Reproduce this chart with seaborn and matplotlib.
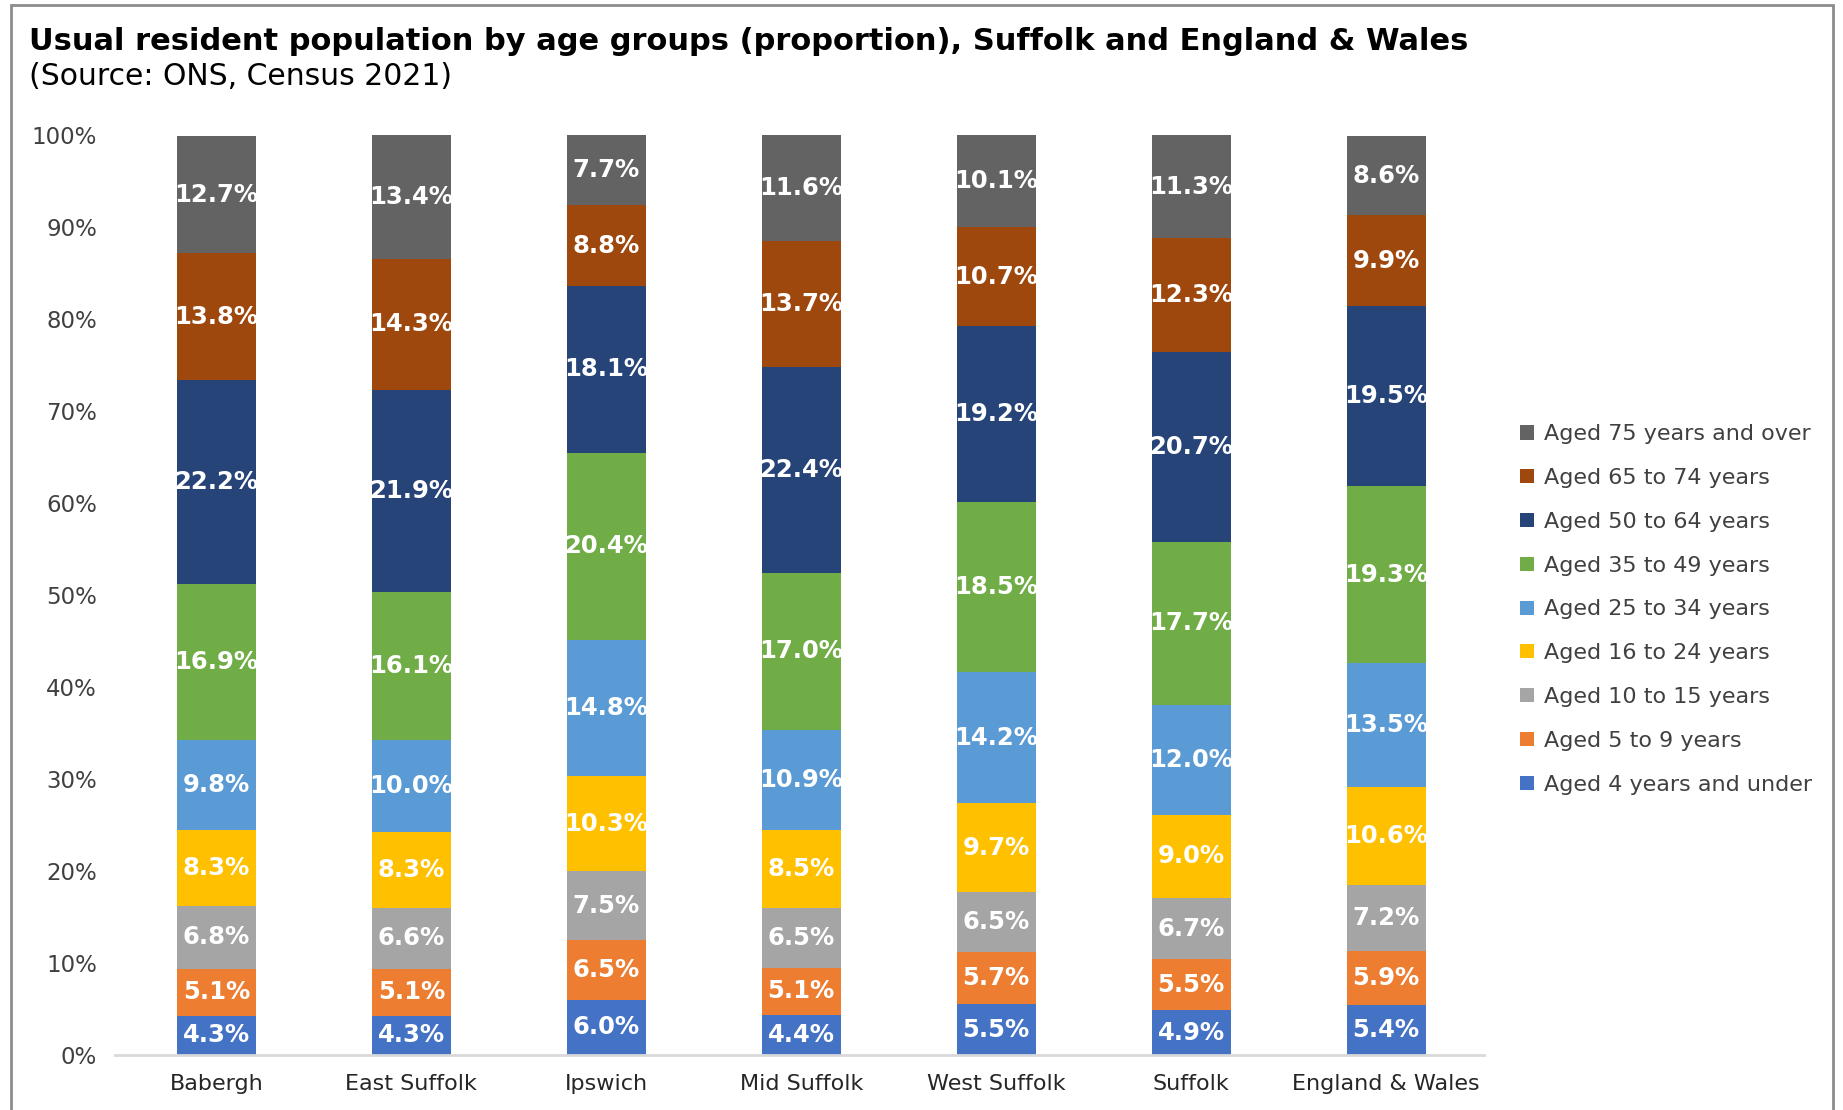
import matplotlib
matplotlib.use("Agg")
import matplotlib.pyplot as plt
from matplotlib.patches import Rectangle
from matplotlib.ticker import FuncFormatter
import pandas as pd
import seaborn as sns

areas = ["Babergh", "East Suffolk", "Ipswich", "Mid Suffolk",
         "West Suffolk", "Suffolk", "England & Wales"]

# Age groups listed top of stack first (same order as the legend)
age_groups = ["Aged 75 years and over", "Aged 65 to 74 years", "Aged 50 to 64 years",
              "Aged 35 to 49 years", "Aged 25 to 34 years", "Aged 16 to 24 years",
              "Aged 10 to 15 years", "Aged 5 to 9 years", "Aged 4 years and under"]

colors = ["#636363", "#9E480E", "#264478", "#70AD47", "#5B9BD5",
          "#FFC000", "#A5A5A5", "#ED7D31", "#4472C4"]

# Percentages per area, one list per age group (area order as above)
aged_75_over = [12.7, 13.4, 7.7, 11.6, 10.1, 11.3, 8.6]
aged_65_74 = [13.8, 14.3, 8.8, 13.7, 10.7, 12.3, 9.9]
aged_50_64 = [22.2, 21.9, 18.1, 22.4, 19.2, 20.7, 19.5]
aged_35_49 = [16.9, 16.1, 20.4, 17.0, 18.5, 17.7, 19.3]
aged_25_34 = [9.8, 10.0, 14.8, 10.9, 14.2, 12.0, 13.5]
aged_16_24 = [8.3, 8.3, 10.3, 8.5, 9.7, 9.0, 10.6]
aged_10_15 = [6.8, 6.6, 7.5, 6.5, 6.5, 6.7, 7.2]
aged_5_9 = [5.1, 5.1, 6.5, 5.1, 5.7, 5.5, 5.9]
aged_0_4 = [4.3, 4.3, 6.0, 4.4, 5.5, 4.9, 5.4]

series = [aged_75_over, aged_65_74, aged_50_64, aged_35_49, aged_25_34,
          aged_16_24, aged_10_15, aged_5_9, aged_0_4]

rows = []
for group, vals in zip(age_groups, series):
    for area, v in zip(areas, vals):
        rows.append({"Area": area, "Age group": group, "Percent": v})
df = pd.DataFrame(rows)

sns.set_theme(style="white")
plt.rcParams["font.family"] = ["DejaVu Sans"]

fig = plt.figure(figsize=(18.43, 11.10), dpi=100)
ax = fig.add_axes([0.0624, 0.0495, 0.805 - 0.0624, 0.878 - 0.0495])

sns.histplot(data=df, x="Area", hue="Age group", weights="Percent",
             hue_order=age_groups, palette=colors, multiple="stack",
             discrete=True, shrink=0.405, alpha=1, linewidth=0, ax=ax)

# White percentage labels in the middle of each segment
for cont in ax.containers:
    ax.bar_label(cont, labels=[f"{v:.1f}%" for v in cont.datavalues],
                 label_type="center", color="white", fontsize=17.5,
                 fontweight="bold")

ax.set_xlim(-0.52, 6.5)
ax.set_ylim(0, 100)
ax.set_yticks(range(0, 101, 10))
ax.yaxis.set_major_formatter(FuncFormatter(lambda v, p: f"{v:.0f}%"))
ax.set_xlabel("")
ax.set_ylabel("")
ax.tick_params(axis="y", length=0, pad=13, labelsize=16.5, labelcolor="#404040")
ax.tick_params(axis="x", length=0, pad=14, labelsize=16, labelcolor="#262626")
for s in ["left", "right", "top"]:
    ax.spines[s].set_visible(False)
ax.spines["bottom"].set_color("#D9D9D9")
ax.spines["bottom"].set_linewidth(2)

leg = ax.get_legend()
handles = leg.legend_handles
leg.remove()
lg = fig.legend(handles, age_groups, loc="center left",
                bbox_to_anchor=(0.825, 0.451), frameon=False, fontsize=16,
                handlelength=0.6, handleheight=0.6, handletextpad=0.45,
                labelspacing=1.07, borderpad=0, borderaxespad=0)
for t in lg.get_texts():
    t.set_color("#404040")

fig.text(0.0157, 0.963, "Usual resident population by age groups (proportion), "
         "Suffolk and England & Wales", fontsize=22, fontweight="bold",
         va="center", ha="left", color="black")
fig.text(0.0157, 0.931, "(Source: ONS, Census 2021)", fontsize=21.5,
         va="center", ha="left", color="black")

fig.patches.append(Rectangle((11 / 1843, -0.01), (1833 - 11) / 1843, 1.01 - 5 / 1110,
                             transform=fig.transFigure, fill=False,
                             edgecolor="#8C8C8C", linewidth=2))

fig.savefig("out.png", dpi=100, facecolor="white")
